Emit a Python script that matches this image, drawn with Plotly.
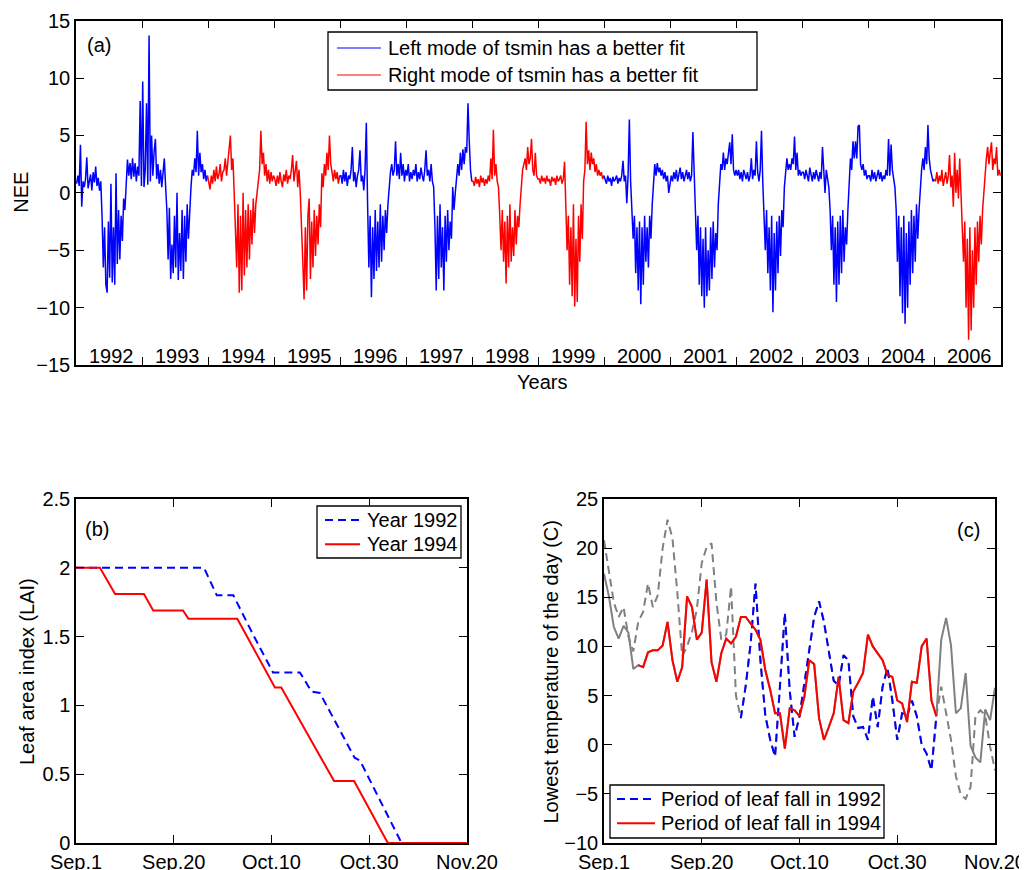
import plotly.graph_objects as go

# ---------------- Panel (a): weekly NEE ----------------
years = ['1992', '1993', '1994', '1995', '1996', '1997', '1998', '1999',
         '2000', '2001', '2002', '2003', '2004', '2006']
better_mode = ['left', 'left', 'right', 'right', 'left', 'left', 'right', 'right',
               'left', 'left', 'left', 'left', 'left', 'right']

nee_1992 = [0.8, 1.5, 0.6, 4.2, -1.2, 1.0, 0.5, 1.2, 3.1, 0.4,
            1.0, 1.6, 0.2, 1.8, 0.9, 2.3, 0.6, 1.3, 0.2, 1.0,
            -2.0, -6.5, -3.0, -8.0, -8.7, -2.5, -7.4, 0.8, -7.8, -3.0,
            -8.0, 1.7, -6.2, -1.5, -5.8, -2.0, -4.2, -0.5, -1.5, 1.2,
            2.9, 1.5, 2.6, 1.2, 3.0, 1.4, 2.6, 1.0, 2.3, 1.5, 8.0, 0.6]
nee_1993 = [9.7, 0.5, 2.0, 7.8, 0.7, 13.7, 1.0, 5.0, 1.5, 3.6,
            4.7, 1.2, 2.5, 0.8, 2.0, 0.5, 1.5, 3.0, 0.6, -1.5,
            -5.8, -1.3, -7.5, -4.5, -7.0, -2.0, -6.5, 0.0, -7.6, -3.5,
            -6.8, -1.5, -7.5, -2.0, -6.0, -1.0, -4.0, -1.5, 0.5, 2.0,
            1.5, 3.0, 1.8, 5.4, 1.5, 3.5, 1.8, 2.5, 1.2, 2.0, 1.0, 1.5]
nee_1994 = [1.0, 0.3, 1.5, 0.8, 2.0, 1.0, 2.3, 1.2, 1.6, 2.5,
            1.0, 1.8, 2.0, 3.0, 1.5, 2.5, 4.0, 5.0, 2.0, 3.0,
            0.0, -3.0, -6.5, -1.0, -8.7, -2.0, -8.5, 0.0, -7.2, -1.5,
            -6.5, -1.0, -5.8, -1.5, -4.5, -0.5, -3.5, -1.0, 0.0, 1.5,
            2.0, 5.4, 2.5, 3.5, 1.5, 2.5, 1.0, 2.0, 0.8, 1.8, 1.0, 1.5]
nee_1995 = [1.2, 0.6, 1.5, 0.8, 1.8, 1.0, 0.5, 1.6, 1.0, 2.0,
            0.8, 1.5, 1.2, 2.0, 3.3, 1.0, 1.8, 2.8, 0.5, 2.0,
            0.0, -4.0, -6.0, -9.3, -3.0, -8.5, -2.0, -0.5, -7.5, -2.5,
            -6.5, -1.5, -5.5, -2.0, -4.5, -1.0, -3.0, 1.7, 0.5, 2.5,
            1.5, 3.5, 2.0, 5.0, 2.5, 1.8, 1.0, 2.0, 1.2, 1.8, 0.8, 1.5]
nee_1996 = [1.5, 0.8, 2.0, 1.0, 1.8, 0.6, 1.5, 1.2, 2.0, 4.0,
            1.0, 1.8, 0.5, 1.5, 2.0, 3.7, 1.0, 1.5, 0.2, 2.0,
            6.1, -1.0, -6.5, -2.0, -9.1, -3.0, -7.5, -1.5, -6.8, -2.5,
            -6.5, -1.0, -6.0, -2.0, -5.0, -1.5, -3.5, -1.0, 0.5, 1.8,
            2.5, 1.5, 2.0, 4.5, 1.5, 2.5, 1.2, 3.5, 1.5, 2.5, 1.0, 2.0]
nee_1997 = [1.5, 2.5, 1.0, 1.8, 1.2, 2.0, 1.5, 2.5, 1.0, 1.8,
            1.2, 2.2, 1.5, 1.0, 2.0, 3.7, 1.5, 2.0, 1.0, 2.5,
            1.0, 0.5, -3.0, -8.5, -2.0, -7.5, -1.0, -6.5, -3.0, -8.5,
            -2.0, -6.0, -1.5, -5.0, -2.5, -4.0, 0.5, -1.5, 0.0, 1.5,
            2.5, 1.5, 3.5, 2.0, 3.8, 2.5, 4.0, 3.5, 7.8, 4.5, 2.0, 1.0]
nee_1998 = [1.0, 0.6, 1.4, 0.8, 1.2, 0.5, 1.5, 0.9, 1.3, 0.6,
            1.2, 0.8, 1.5, 1.0, 3.0, 1.2, 5.5, 1.5, 2.5, 1.0,
            0.5, -2.0, -5.0, -1.5, -6.0, -2.5, -7.9, -2.0, -6.5, -1.0,
            -6.0, -3.0, -5.5, -1.5, -4.5, -2.0, -3.0, -1.0, 0.5, 2.0,
            2.5, 3.0, 2.0, 4.0, 2.5, 3.0, 4.7, 2.0, 1.5, 3.5, 1.5, 1.2]
nee_1999 = [1.2, 0.8, 1.5, 1.0, 1.3, 0.8, 1.5, 1.0, 1.2, 0.6,
            1.4, 1.0, 1.3, 0.7, 1.5, 1.0, 1.2, 1.5, 0.8, 1.2,
            2.7, -1.0, -5.0, -2.0, -8.0, -3.0, -9.0, -1.0, -9.9, -4.0,
            -9.5, -2.0, -6.0, -1.0, -4.0, 1.0, 2.0, 6.2, 2.5, 3.7,
            2.0, 3.5, 2.5, 3.0, 1.8, 2.5, 1.5, 2.0, 1.5, 1.8, 1.2, 1.5]
nee_2000 = [1.2, 0.8, 1.5, 1.0, 1.3, 0.6, 1.4, 1.0, 1.2, 1.5,
            0.8, 1.3, 1.0, 1.5, 2.8, 1.0, 1.5, -0.9, 1.5, 6.4,
            1.0, -1.0, -4.0, -2.0, -7.0, -3.0, -8.5, -2.5, -9.7, -3.0,
            -8.0, -2.0, -6.0, -3.0, -6.5, -2.0, -4.0, -1.0, 1.0, 2.5,
            1.5, 2.6, 1.8, 2.2, 1.5, 2.0, 1.2, 1.8, 1.0, 1.5, 0.0, 1.0]
nee_2001 = [1.5, 1.0, 1.8, 1.2, 2.0, 1.0, 1.5, 2.2, 1.2, 1.8,
            1.0, 1.5, 2.0, 1.2, 1.8, 1.0, 1.5, 5.3, 1.5, -1.0,
            -5.0, -2.0, -8.0, -3.0, -9.0, -4.0, -10.0, -3.0, -9.0, -5.0,
            -8.5, -3.0, -7.5, -2.5, -6.5, -3.5, -5.0, -1.0, 0.5, 2.5,
            2.0, 3.5, 2.0, 3.0, 2.5, 3.5, 4.4, 2.5, 5.1, 2.0, 1.5, 2.0]
nee_2002 = [1.5, 2.0, 1.2, 1.8, 1.0, 2.0, 1.5, 1.2, 1.8, 1.0,
            1.5, 3.0, 1.2, 2.0, 1.5, 4.5, 1.8, 1.0, 2.0, 5.4,
            1.0, -2.0, -5.0, -1.5, -7.0, -3.0, -8.5, -2.0, -10.4, -3.5,
            -8.5, -2.5, -7.0, -2.0, -5.5, -1.5, -3.0, 0.5, 2.0, 3.0,
            2.0, 2.5, 2.0, 3.0, 2.5, 4.9, 2.0, 3.5, 1.5, 2.0, 1.5, 1.8]
nee_2003 = [1.8, 1.2, 2.0, 1.5, 1.0, 2.2, 1.5, 1.0, 1.8, 1.2,
            2.0, 1.5, 1.0, 1.8, 1.2, 4.0, 1.5, 0.0, 2.0, 1.0,
            0.5, -1.5, -5.0, -2.0, -8.0, -3.0, -9.5, -2.5, -8.0, -2.0,
            -7.0, -1.5, -6.0, -3.0, -4.5, -1.5, 0.5, 3.0, 2.0, 4.5,
            3.0, 4.5, 3.0, 5.8, 5.9, 2.5, 2.0, 2.5, 1.5, 2.0, 1.2, 1.5]
nee_2004 = [1.5, 1.0, 2.0, 1.2, 1.8, 1.0, 1.5, 2.0, 1.2, 1.8,
            1.0, 1.5, 1.2, 2.0, 1.5, 4.7, 1.5, 4.2, 2.0, 1.0,
            0.5, -1.5, -6.0, -2.0, -9.0, -3.0, -10.5, -2.0, -11.4, -3.5,
            -10.0, -2.5, -8.0, -1.5, -7.0, -2.0, -6.0, -1.0, -4.0, -1.5,
            0.5, 2.0, 3.0, 2.0, 4.0, 2.5, 5.9, 3.0, 2.0, 1.5, 1.0, 1.2]
nee_2006 = [1.0, 1.8, 0.8, 1.5, 1.0, 2.0, 0.6, 1.2, 1.8, 0.8,
            1.5, 3.3, 0.5, 1.5, -1.2, 3.5, 0.0, 2.0, -0.5, 3.0,
            0.0, -2.0, -6.0, -2.5, -10.0, -4.0, -12.8, -3.0, -12.0, -5.0,
            -10.0, -3.0, -8.0, -2.5, -6.0, -2.0, -4.5, -1.5, 0.0, 2.0,
            3.0, 4.0, 2.5, 3.5, 4.4, 2.0, 3.0, 2.5, 4.0, 1.5, 2.0, 1.5]

nee_by_year = [nee_1992, nee_1993, nee_1994, nee_1995, nee_1996, nee_1997, nee_1998,
               nee_1999, nee_2000, nee_2001, nee_2002, nee_2003, nee_2004, nee_2006]

# ---------------- Panel (b): leaf area index (vertices) ----------------
lai_days_1992 = [0, 26.2, 28.8, 32.2, 36.3, 40.3, 45.8, 48.2, 49.9, 57.0, 58.1, 66.6, 80]
lai_1992 = [2.0, 2.0, 1.80, 1.80, 1.51, 1.24, 1.24, 1.10, 1.09, 0.62, 0.60, 0.0, 0.0]
lai_days_1994 = [0, 4.9, 8.0, 13.9, 15.8, 21.9, 23.0, 33.0, 40.7, 42.0, 52.8, 56.9, 63.8, 80]
lai_1994 = [2.0, 2.0, 1.81, 1.81, 1.69, 1.69, 1.63, 1.63, 1.13, 1.13, 0.45, 0.45, 0.0, 0.0]

# ---------------- Panel (c): daily minimum temperature ----------------
tmin_1992 = [20.8, 17.5, 14.5, 13.0, 14.0, 11.0, 9.5, 12.5, 13.5, 16.4,
             14.0, 15.2, 20.0, 22.9, 21.0, 15.5, 9.0, 10.0, 11.5, 13.8,
             18.5, 20.1, 20.5, 14.5, 10.7, 11.2, 16.1, 5.0, 2.7, 6.0,
             10.3, 16.4, 8.6, 3.0, 0.5, -1.2, 5.9, 13.4, 5.5, 0.8,
             2.9, 6.3, 10.0, 13.0, 14.6, 12.5, 9.5, 6.5, 6.0, 9.1,
             8.6, 2.9, 1.7, 1.8, 0.5, 4.9, 1.8, 5.9, 7.8, 4.5,
             0.5, 3.2, 2.9, 4.5, 2.9, 0.0, -0.9, -2.6, 2.9, 5.9,
             3.2, 0.5, -3.2, -5.1, -5.5, -4.3, 2.9, 3.5, 3.0, -0.2, -2.6]
tmin_1994 = [17.4, 15.1, 12.0, 10.8, 12.1, 11.4, 7.7, 8.1, 7.9, 9.4,
             9.6, 9.6, 10.1, 12.5, 8.6, 6.4, 7.9, 15.1, 14.0, 10.7,
             11.4, 16.8, 8.4, 6.4, 9.3, 10.8, 10.3, 11.0, 13.0, 13.0,
             12.3, 11.7, 10.7, 7.6, 5.6, 3.2, 3.2, -0.4, 3.7, 3.5,
             2.9, 4.9, 8.6, 8.2, 2.7, 0.5, 1.8, 3.2, 6.9, 2.5,
             2.2, 5.4, 6.3, 7.3, 11.2, 10.0, 9.3, 8.6, 7.1, 6.9,
             4.5, 4.2, 2.3, 6.4, 6.3, 10.0, 10.8, 4.5, 2.9, 10.7,
             12.9, 10.1, 3.2, 3.7, 7.3, -0.1, -1.3, -1.8, 3.6, 2.5, 5.8]
leaf_fall_1992 = [28, 68]   # first and last day of the leaf-fall period
leaf_fall_1994 = [7, 68]

day_ticks = [0, 20, 40, 60, 80]
day_labels = ['Sep.1', 'Sep.20', 'Oct.10', 'Oct.30', 'Nov.20']

FONT = 'Liberation Sans, Arial, Helvetica, sans-serif'
FS = 20
BLUE = '#0000FF'
RED = '#FF0000'
GRAY = '#808080'
DASH = '8px,5px'

NAME_LEFT = 'Left mode of tsmin has a better fit'
NAME_RIGHT = 'Right mode of tsmin has a better fit'

fig = go.Figure()

# ---- Panel (a) traces: consecutive years with the same mode form one line
runs = []
for i, (mode, vals) in enumerate(zip(better_mode, nee_by_year)):
    xs = [i + (w + 0.5) / len(vals) for w in range(len(vals))]
    if runs and runs[-1]['mode'] == mode:
        runs[-1]['x'] += xs
        runs[-1]['y'] += list(vals)
    else:
        if runs:
            xs = [runs[-1]['x'][-1]] + xs
            vals = [runs[-1]['y'][-1]] + list(vals)
        runs.append({'mode': mode, 'x': xs, 'y': list(vals)})

for r in runs:
    is_left = r['mode'] == 'left'
    fig.add_trace(go.Scatter(
        x=r['x'], y=r['y'], mode='lines', name=NAME_LEFT if is_left else NAME_RIGHT,
        line=dict(color=BLUE if is_left else RED, width=1.5),
        showlegend=False, xaxis='x', yaxis='y'))

# ---- Panel (b)
fig.add_trace(go.Scatter(x=lai_days_1992, y=lai_1992, mode='lines', name='Year 1992',
                         line=dict(color=BLUE, width=2, dash=DASH), showlegend=False,
                         xaxis='x2', yaxis='y2'))
fig.add_trace(go.Scatter(x=lai_days_1994, y=lai_1994, mode='lines', name='Year 1994',
                         line=dict(color=RED, width=2), showlegend=False,
                         xaxis='x2', yaxis='y2'))

# ---- Panel (c)
days = list(range(len(tmin_1992)))
fig.add_trace(go.Scatter(x=days, y=tmin_1992, mode='lines', showlegend=False,
                         line=dict(color=GRAY, width=2, dash=DASH),
                         xaxis='x3', yaxis='y3'))
fig.add_trace(go.Scatter(x=days, y=tmin_1994, mode='lines', showlegend=False,
                         line=dict(color=GRAY, width=2),
                         xaxis='x3', yaxis='y3'))
a, b = leaf_fall_1992
fig.add_trace(go.Scatter(x=days[a:b + 1], y=tmin_1992[a:b + 1], mode='lines',
                         name='Period of leaf fall in 1992', showlegend=False,
                         line=dict(color=BLUE, width=2, dash=DASH),
                         xaxis='x3', yaxis='y3'))
a, b = leaf_fall_1994
fig.add_trace(go.Scatter(x=days[a:b + 1], y=tmin_1994[a:b + 1], mode='lines',
                         name='Period of leaf fall in 1994', showlegend=False,
                         line=dict(color=RED, width=2),
                         xaxis='x3', yaxis='y3'))

# the page body adds an 8 px margin, so the figure is drawn 8 px in from the corner
OFF = 8
W, H = 1027 - OFF, 870 - OFF


def px_x(p):
    return (p - OFF) / W


def px_y(p):
    return 1 - (p - OFF) / H


axis_common = dict(showline=True, linecolor='black', linewidth=1.5, mirror='ticks',
                   ticks='inside', ticklen=8, tickwidth=1, tickcolor='black',
                   showgrid=False, zeroline=False, automargin=False,
                   tickfont=dict(family=FONT, size=FS, color='black'))

ann_font = dict(family=FONT, size=FS, color='black')
annotations = []
for i, yr in enumerate(years):
    annotations.append(dict(x=i + 0.53, y=-14.2, xref='x', yref='y', text=yr,
                            xanchor='center', yanchor='middle',
                            showarrow=False, font=ann_font))


def paper_text(x, y, text, angle=0, xanchor='center'):
    return dict(x=px_x(x), y=px_y(y), xref='paper', yref='paper', text=text,
                textangle=angle, xanchor=xanchor, yanchor='middle',
                showarrow=False, font=ann_font)


annotations += [
    paper_text(21, 192.7, 'NEE', -90),
    paper_text(541.7, 381.7, 'Years'),
    paper_text(27, 672, 'Leaf area index (LAI)', -90),
    paper_text(550.5, 672, 'Lowest temperature of the day (C)', -90),
    paper_text(99, 45, '(a)'),
    paper_text(97, 529, '(b)'),
    paper_text(968, 530, '(c)'),
]

# ---- legends drawn as boxed keys (box, line samples and texts in pixel positions)
shapes = []
legends = [
    dict(box=(328, 32, 757, 90), lx=(337, 381), tx=386,
         entries=[(48, NAME_LEFT, BLUE, 'solid', 1.2), (75, NAME_RIGHT, RED, 'solid', 1.2)]),
    dict(box=(317, 506, 461, 558), lx=(325, 360), tx=365,
         entries=[(520, 'Year 1992', BLUE, DASH, 2), (544.3, 'Year 1994', RED, 'solid', 2)]),
    dict(box=(610, 785, 884, 838), lx=(617, 655), tx=659,
         entries=[(799, 'Period of leaf fall in 1992', BLUE, DASH, 2),
                  (823.3, 'Period of leaf fall in 1994', RED, 'solid', 2)]),
]
for lg in legends:
    x0, y0, x1, y1 = lg['box']
    shapes.append(dict(type='rect', xref='paper', yref='paper',
                       x0=px_x(x0), x1=px_x(x1), y0=px_y(y1), y1=px_y(y0),
                       line=dict(color='black', width=1.3), fillcolor='white', layer='above'))
    for (ey, label, color, dash, lw) in lg['entries']:
        shapes.append(dict(type='line', xref='paper', yref='paper',
                           x0=px_x(lg['lx'][0]), x1=px_x(lg['lx'][1]),
                           y0=px_y(ey), y1=px_y(ey),
                           line=dict(color=color, width=lw, dash=dash), layer='above'))
        annotations.append(paper_text(lg['tx'], ey, label, xanchor='left'))

fig.update_layout(
    width=W, height=H,
    margin=dict(l=0, r=0, t=0, b=0, autoexpand=False),
    paper_bgcolor='white', plot_bgcolor='white',
    font=dict(family=FONT, size=FS, color='black'),
    showlegend=False,
    xaxis=dict(domain=[px_x(76), px_x(1001)], range=[0, 14],
               tickvals=list(range(1, 14)), showticklabels=False,
               anchor='y', **axis_common),
    yaxis=dict(domain=[px_y(365), px_y(20.7)], range=[-15, 15],
               tickvals=[-15, -10, -5, 0, 5, 10, 15],
               anchor='x', **axis_common),
    xaxis2=dict(domain=[px_x(76), px_x(467)], range=[0, 80],
                tickvals=day_ticks, ticktext=day_labels,
                anchor='y2', **axis_common),
    yaxis2=dict(domain=[px_y(843), px_y(499)], range=[0, 2.5],
                tickvals=[0, 0.5, 1, 1.5, 2, 2.5], ticktext=['0', '0.5', '1', '1.5', '2', '2.5'],
                anchor='x2', **axis_common),
    xaxis3=dict(domain=[px_x(604), px_x(995)], range=[0, 80],
                tickvals=day_ticks, ticktext=day_labels,
                anchor='y3', **axis_common),
    yaxis3=dict(domain=[px_y(843), px_y(499)], range=[-10, 25],
                tickvals=[-10, -5, 0, 5, 10, 15, 20, 25],
                anchor='x3', **axis_common),
    shapes=shapes,
    annotations=annotations,
)

fig.write_html('out.html')
